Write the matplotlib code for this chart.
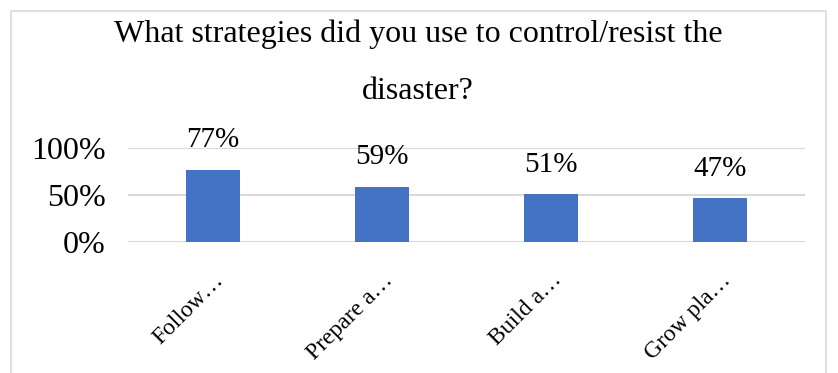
import numpy as np
import matplotlib.pyplot as plt
from matplotlib.patches import Rectangle
from matplotlib.ticker import PercentFormatter

categories = ["Follow…", "Prepare a…", "Build a…", "Grow pla…"]
shares = [0.77, 0.59, 0.51, 0.47]
value_labels = ["77%", "59%", "51%", "47%"]
y_ticks = [0.0, 0.5, 1.0]

plt.rcParams["font.family"] = ["Liberation Serif", "DejaVu Serif"]

W, H = 838, 373
fig = plt.figure(figsize=(W / 100, H / 100), dpi=100)

# chart frame (Excel-style light border)
fig.patches.append(Rectangle((11 / W, -0.1), (826 - 11) / W, (H - 11) / H + 0.1,
                             transform=fig.transFigure, fill=False,
                             edgecolor="#d9d9d9", linewidth=1.2))

ax = fig.add_axes([128 / W, (H - 242) / H, (805 - 128) / W, (242 - 148) / H])
x = np.arange(len(categories))
ax.bar(x, shares, width=0.32, color="#4472C4", zorder=3)

ax.set_xlim(-0.5, len(categories) - 0.5)
ax.set_ylim(0, 1.0)
ax.set_yticks(y_ticks)
ax.yaxis.set_major_formatter(PercentFormatter(1.0, decimals=0))
ax.grid(axis="y", color="#d9d9d9", linewidth=1.5, zorder=0)
ax.set_axisbelow(True)
for s in ax.spines.values():
    s.set_visible(False)
ax.tick_params(axis="y", length=0, labelsize=23, pad=16)
ax.tick_params(axis="x", length=0, labelsize=17, pad=20)
ax.set_xticks(x)
ax.set_xticklabels(categories, rotation=45, ha="right", rotation_mode="anchor")

# data labels above bars
for xi, v, lab in zip(x, shares, value_labels):
    ax.annotate(lab, (xi, v), xytext=(0, 16), textcoords="offset points",
                ha="center", va="baseline", fontsize=21)

fig.text(418 / W, 1 - 42 / H, "What strategies did you use to control/resist the",
         ha="center", va="baseline", fontsize=23)
fig.text(418 / W, 1 - 99 / H, "disaster?", ha="center", va="baseline", fontsize=23)

fig.savefig("out.png", dpi=100, facecolor="white")
